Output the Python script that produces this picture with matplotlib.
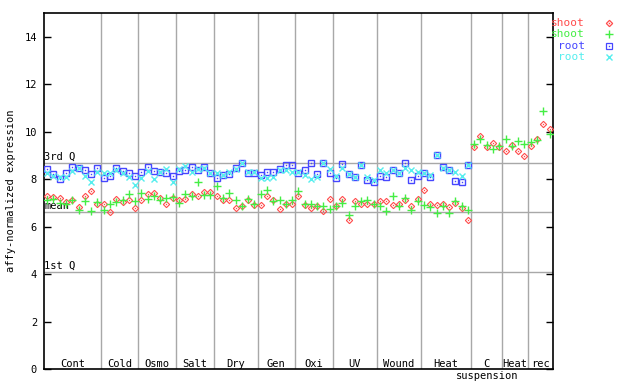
import matplotlib
matplotlib.use("Agg")
import matplotlib.pyplot as plt
from matplotlib.lines import Line2D
import numpy as np

# groups of samples along the x axis
groups = ["Cont", "Cold", "Osmo", "Salt", "Dry", "Gen", "Oxi", "UV", "Wound", "Heat", "C", "Heat", "rec"]
group_sizes = [9, 6, 6, 6, 7, 6, 6, 7, 7, 8, 5, 4, 4]

# shoot replicate 1 (red diamonds), all 81 samples
shoot_a = [7.27, 7.24, 7.22, 7.03, 7.13, 6.82, 7.31, 7.49, 6.96,
           6.96, 6.62, 7.15, 7.05, 7.13, 6.78,
           7.13, 7.38, 7.41, 7.20, 6.96, 7.20,
           7.13, 7.17, 7.38, 7.30, 7.44, 7.44,
           7.27, 7.13, 7.13, 6.78, 6.87, 7.13, 6.92,
           6.92, 7.27, 7.13, 6.73, 6.96, 6.96,
           7.30, 6.92, 6.78, 6.85, 6.66, 7.16,
           6.85, 7.16, 6.28, 7.09, 6.96, 6.96, 6.96,
           7.09, 7.09, 6.92, 6.96, 7.13, 6.85, 7.16,
           7.55, 6.96, 6.90, 6.96, 6.82, 7.00, 6.78, 6.28,
           9.35, 9.83, 9.35, 9.52, 9.35,
           9.19, 9.45, 9.19, 8.98,
           9.41, 9.69, 10.32, 10.11]

# shoot replicate 2 (green plus)
shoot_b = [7.11, 7.17, 7.01, 6.96, 7.13, 6.69, 7.09, 6.66, 7.03,
           6.68, 6.96, 7.05, 7.13, 7.38, 7.06,
           7.41, 7.17, 7.27, 7.13, 7.20, 7.24,
           7.01, 7.38, 7.27, 7.87, 7.34, 7.34,
           7.69, 7.20, 7.41, 7.10, 6.87, 7.17, 6.96,
           7.38, 7.55, 7.06, 7.13, 6.96, 7.13,
           7.48, 6.96, 6.96, 6.87, 6.85, 6.73,
           6.87, 6.99, 6.50, 6.87, 7.09, 7.13, 6.96,
           6.85, 6.66, 7.27, 6.87, 7.20, 6.70, 7.06,
           6.92, 6.82, 6.59, 6.87, 6.57, 7.06, 6.87, 6.70,
           9.49, 9.69, 9.45, 9.27, 9.41,
           9.69, 9.41, 9.59, 9.49,
           9.55, 9.63, 10.85, 9.91]

# root replicate 1 (blue squares), only the first 68 samples
root_a = [8.43, 8.21, 8.01, 8.25, 8.51, 8.46, 8.38, 8.22, 8.48,
          8.04, 8.14, 8.45, 8.34, 8.25, 8.15,
          8.30, 8.53, 8.35, 8.30, 8.25, 8.14,
          8.35, 8.39, 8.53, 8.39, 8.53, 8.25,
          8.06, 8.18, 8.23, 8.48, 8.68, 8.25, 8.27,
          8.18, 8.30, 8.32, 8.42, 8.60, 8.60,
          8.25, 8.39, 8.68, 8.22, 8.68, 8.25,
          8.04, 8.63, 8.21, 8.11, 8.60, 7.97, 7.86,
          8.14, 8.08, 8.39, 8.25, 8.68, 7.97, 8.14,
          8.27, 8.08, 9.03, 8.53, 8.39, 7.93, 7.87, 8.60]

# root replicate 2 (cyan crosses)
root_b = [8.25, 8.15, 8.07, 8.11, 8.34, 8.46, 8.15, 7.90, 8.30,
          8.25, 8.25, 8.39, 8.25, 8.07, 7.76,
          8.04, 8.35, 8.00, 8.30, 8.42, 7.90,
          8.42, 8.56, 8.32, 8.42, 8.46, 8.25,
          8.25, 8.18, 8.32, 8.42, 8.68, 8.32, 8.28,
          8.04, 8.04, 8.11, 8.39, 8.39, 8.28,
          8.32, 8.18, 8.00, 8.11, 8.68, 8.42,
          8.14, 8.46, 8.21, 8.11, 8.60, 8.11, 7.97,
          8.39, 8.25, 8.39, 8.25, 8.46, 8.39, 8.32,
          8.25, 8.18, 9.03, 8.46, 8.39, 8.32, 8.14, 8.60]

# summary lines
q3_val = 8.67
mean_val = 6.62
q1_val = 4.08

RED = "#ff4c4c"
GREEN = "#44ee44"
BLUE = "#4646ff"
CYAN = "#55eeee"
GRID = "#a8a8a8"

plt.rcParams["font.family"] = "DejaVu Sans Mono"

fig = plt.figure(figsize=(6.4, 3.84), dpi=100)
ax = fig.add_axes([44 / 640, 15 / 384, 508.7 / 640, 356 / 384])

n = sum(group_sizes)
ax.set_xlim(0, n)
ax.set_ylim(0, 15)

# separators between groups
bounds = np.cumsum(group_sizes)
for b in bounds[:-1]:
    ax.axvline(b, color=GRID, lw=1, zorder=1)

# quartile / mean lines
for val, lab in [(q3_val, "3rd Q"), (mean_val, "mean"), (q1_val, "1st Q")]:
    ax.axhline(val, color=GRID, lw=1, zorder=1)
    ax.text(0.05, val + 0.05, lab, fontsize=7.5, ha="left", va="bottom", zorder=2)

xs = np.arange(n) + 0.5
xr = np.arange(len(root_a)) + 0.5

ax.plot(xs, shoot_a, ls="none", marker="D", ms=3.2, mfc="none", mec=RED, mew=0.8, zorder=3)
ax.plot(xs, shoot_a, ls="none", marker="s", ms=0.9, mfc=RED, mec=RED, mew=0, zorder=3)
ax.plot(xs, shoot_b, ls="none", marker="+", ms=5.5, mec=GREEN, mew=1.0, zorder=3)
ax.plot(xr, root_a, ls="none", marker="s", ms=4.0, mfc="none", mec=BLUE, mew=1.0, zorder=3)
ax.plot(xr, root_a, ls="none", marker="s", ms=1.0, mfc=BLUE, mec=BLUE, mew=0, zorder=3)
ax.plot(xr, root_b, ls="none", marker="x", ms=4.2, mec=CYAN, mew=1.0, zorder=3)

# group labels
starts = np.concatenate([[0], bounds[:-1]])
for g, s, e in zip(groups, starts, bounds):
    ax.text((s + e) / 2, 0.2, g, fontsize=7.5, ha="center", va="center")
c_idx = groups.index("C")
ax.text((starts[c_idx] + bounds[c_idx]) / 2, -0.28, "suspension", fontsize=7.5,
        ha="center", va="center", clip_on=False)

ax.set_xticks([])
ax.set_yticks(np.arange(0, 15, 2))
ax.tick_params(axis="y", direction="in", length=5, width=1, labelsize=7.5,
               right=True, pad=5)
ax.set_ylabel("affy-normalized expression", fontsize=7.5, labelpad=6)
for sp in ax.spines.values():
    sp.set_linewidth(1.2)

# legend outside on the right
legend_items = [("shoot", RED, "D"), ("shoot", GREEN, "+"), ("root", BLUE, "s"), ("root", CYAN, "x")]
for i, (name, col, mk) in enumerate(legend_items):
    ypx = 23 + i * 11.4
    fy = 1 - ypx / 384
    fig.text(585 / 640, fy, name, color=col, fontsize=8, ha="right", va="center")
    if mk in "Ds":
        fig.add_artist(Line2D([609 / 640], [fy], ls="none", marker=mk,
                              ms=3.2 if mk == "D" else 4.0,
                              mfc="none", mec=col, mew=0.9))
        fig.add_artist(Line2D([609 / 640], [fy], ls="none", marker="s", ms=1.0,
                              mfc=col, mec=col, mew=0))
    else:
        fig.add_artist(Line2D([609 / 640], [fy], ls="none", marker=mk,
                              ms=5.5 if mk == "+" else 4.2, mec=col, mew=1.0))

fig.savefig("out.png", dpi=100)
